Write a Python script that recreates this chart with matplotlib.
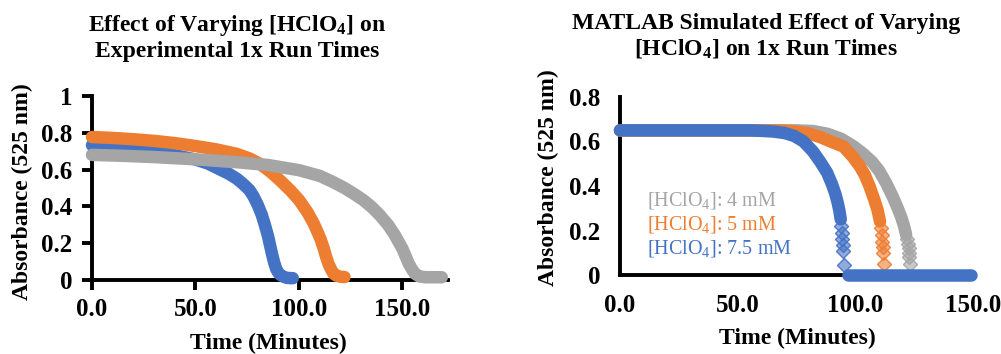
import matplotlib
matplotlib.use("Agg")
import matplotlib.pyplot as plt
from matplotlib.colors import to_rgba

plt.rcParams['font.family'] = ['Liberation Serif', 'DejaVu Serif']
plt.rcParams['mathtext.default'] = 'regular'

BLUE = '#4472C4'
ORANGE = '#ED7D31'
GRAY = '#A5A5A5'

# ---------------- Experimental data (left) ----------------
exp_blue_t = [0, 10, 20, 30, 40, 50, 56, 62, 66, 70, 73, 76, 78, 80, 82, 83.5, 85, 86, 87, 88, 89, 90, 91, 92.5, 94, 96, 97]
exp_blue_a = [0.733, 0.722, 0.71, 0.695, 0.678, 0.655, 0.633, 0.60, 0.578, 0.55, 0.522, 0.49, 0.455, 0.41, 0.355, 0.30, 0.24, 0.19, 0.14, 0.095, 0.06, 0.04, 0.028, 0.018, 0.012, 0.01, 0.01]

exp_orange_t = [0, 10, 20, 30, 40, 50, 60, 70, 76, 81, 86, 91, 96, 100, 104, 107, 109, 110.5, 112, 113, 114.2, 115.4, 116.6, 118, 120, 122]
exp_orange_a = [0.777, 0.772, 0.765, 0.756, 0.744, 0.728, 0.71, 0.685, 0.661, 0.632, 0.59, 0.54, 0.485, 0.435, 0.37, 0.31, 0.26, 0.22, 0.17, 0.13, 0.09, 0.06, 0.036, 0.024, 0.018, 0.016]

exp_gray_t = [0, 15, 30, 50, 70, 85, 100, 110, 116, 122, 127, 131, 135, 139, 143, 146, 148, 150, 151.5, 153, 154.5, 156, 158, 161, 165, 169]
exp_gray_a = [0.68, 0.675, 0.668, 0.656, 0.64, 0.625, 0.597, 0.566, 0.535, 0.5, 0.465, 0.435, 0.398, 0.353, 0.30, 0.25, 0.21, 0.17, 0.13, 0.09, 0.06, 0.035, 0.02, 0.015, 0.015, 0.015]

# ---------------- Simulated data (right) ----------------
# continuous part of each curve
sim_gray_t = [0, 15, 30, 45, 60, 75, 82, 88, 94, 99, 103, 107, 110, 113, 116, 118, 119.5, 120.7, 121.6]
sim_gray_a = [0.65, 0.65, 0.65, 0.65, 0.65, 0.65, 0.647, 0.635, 0.612, 0.58, 0.548, 0.51, 0.47, 0.415, 0.35, 0.30, 0.26, 0.22, 0.18]
# discrete points in the steep tail
sim_gray_tail_t = [122.0, 122.3, 122.6, 122.8, 123.0, 123.2]
sim_gray_tail_a = [0.16, 0.14, 0.12, 0.10, 0.08, 0.05]

sim_orange_t = [0, 15, 30, 45, 60, 65, 70, 75, 80, 85, 90, 95, 99, 102, 104, 106, 108, 109.5, 110.5]
sim_orange_a = [0.65, 0.65, 0.65, 0.65, 0.65, 0.65, 0.648, 0.644, 0.637, 0.62, 0.598, 0.577, 0.53, 0.487, 0.45, 0.40, 0.34, 0.29, 0.24]
sim_orange_tail_t = [110.9, 111.2, 111.5, 111.7, 111.9, 112.3]
sim_orange_tail_a = [0.21, 0.18, 0.15, 0.125, 0.10, 0.05]

sim_blue_t = [0, 15, 30, 45, 55, 60, 65, 70, 74, 78, 82, 85, 88, 90, 91.5, 92.5, 93.2, 93.8]
sim_blue_a = [0.65, 0.65, 0.65, 0.65, 0.65, 0.648, 0.645, 0.638, 0.625, 0.60, 0.555, 0.51, 0.46, 0.41, 0.365, 0.325, 0.29, 0.25]
sim_blue_tail_t = [94.1, 94.3, 94.5, 94.7, 94.9, 95.2]
sim_blue_tail_a = [0.22, 0.19, 0.16, 0.135, 0.11, 0.045]
# post-reaction baseline (all series reach zero; blue drawn on top)
sim_zero_t = [96.8, 149]
sim_zero_a = [0, 0]

legend_labels = ['[HClO$_4$]: 4 mM', '[HClO$_4$]: 5 mM', '[HClO$_4$]: 7.5 mM']

left_title = 'Effect of Varying [HClO$_4$] on\nExperimental 1x Run Times'
right_title = 'MATLAB Simulated Effect of Varying\n[HClO$_4$] on 1x Run Times'
xlabel = 'Time (Minutes)'
ylabel = 'Absorbance (525 nm)'

left_yticks = [0, 0.2, 0.4, 0.6, 0.8, 1]
left_yticklabels = ['0', '0.2', '0.4', '0.6', '0.8', '1']
right_yticks = [0, 0.2, 0.4, 0.6, 0.8]
right_yticklabels = ['0', '0.2', '0.4', '0.6', '0.8']
xticks = [0, 50, 100, 150]
xticklabels = ['0.0', '50.0', '100.0', '150.0']

LW = 9
TICK_FS = 18

fig = plt.figure(figsize=(10.01, 3.54), dpi=100)
axL = fig.add_axes([92/1001, 74/354, 356/1001, 184/354])
axR = fig.add_axes([620/1001, 79/354, 353/1001, 178/354])


def band(ax, t, a, c, z):
    ax.plot(t, a, color=c, lw=LW, solid_capstyle='round', solid_joinstyle='round',
            zorder=z, clip_on=False)


def tail(ax, t, a, c, z):
    ax.plot(t, a, 'D', ms=7, mfc=to_rgba(c, 0.6), mec=to_rgba(c, 0.9), mew=1,
            zorder=z, clip_on=False)


for ax in (axL, axR):
    for s in ('top', 'right'):
        ax.spines[s].set_visible(False)
    for s in ('left', 'bottom'):
        ax.spines[s].set_linewidth(2.8)
        ax.spines[s].set_color('black')
        ax.spines[s].set_zorder(1)

# Left chart
band(axL, exp_blue_t, exp_blue_a, BLUE, 3)
band(axL, exp_orange_t, exp_orange_a, ORANGE, 4)
band(axL, exp_gray_t, exp_gray_a, GRAY, 5)
axL.set_xlim(0, 172)
axL.set_ylim(0, 1)
axL.set_xticks(xticks)
axL.set_xticklabels(xticklabels)
axL.set_yticks(left_yticks)
axL.set_yticklabels(left_yticklabels)
axL.tick_params(axis='both', direction='out', length=7, width=2.8, labelsize=TICK_FS)
axL.tick_params(axis='x', pad=6)
axL.tick_params(axis='y', pad=7)

# Right chart
band(axR, sim_gray_t, sim_gray_a, GRAY, 3)
tail(axR, sim_gray_tail_t, sim_gray_tail_a, GRAY, 3)
band(axR, sim_orange_t, sim_orange_a, ORANGE, 4)
tail(axR, sim_orange_tail_t, sim_orange_tail_a, ORANGE, 4)
band(axR, sim_blue_t, sim_blue_a, BLUE, 5)
tail(axR, sim_blue_tail_t, sim_blue_tail_a, BLUE, 5)
band(axR, sim_zero_t, sim_zero_a, BLUE, 5)
axR.set_xlim(0, 150)
axR.set_ylim(0, 0.8)
axR.set_xticks(xticks)
axR.set_xticklabels(xticklabels)
axR.set_yticks(right_yticks)
axR.set_yticklabels(right_yticklabels)
axR.tick_params(axis='both', length=0, labelsize=TICK_FS)
axR.tick_params(axis='x', pad=14)
axR.tick_params(axis='y', pad=14)

for ax in (axL, axR):
    for lab in ax.get_xticklabels() + ax.get_yticklabels():
        lab.set_fontweight('bold')

for lab, c, y in zip(legend_labels, [GRAY, ORANGE, BLUE], [0.337, 0.229, 0.121]):
    axR.text(11.5, y, lab, color=c, fontsize=14.5, va='center', ha='left', zorder=6)

# Titles and axis labels
fig.text(237/1001, 0.894, left_title, ha='center', va='center', fontsize=17, fontweight='bold', linespacing=1.15)
fig.text(766/1001, 0.897, right_title, ha='center', va='center', fontsize=17, fontweight='bold', linespacing=1.15)
fig.text(268/1001, 0.031, xlabel, ha='center', va='center', fontsize=17, fontweight='bold')
fig.text(797/1001, 0.045, xlabel, ha='center', va='center', fontsize=17, fontweight='bold')
fig.text(22/1001, 0.458, ylabel, ha='center', va='center', fontsize=17, fontweight='bold', rotation=90)
fig.text(548/1001, 0.497, ylabel, ha='center', va='center', fontsize=17, fontweight='bold', rotation=90)

fig.savefig('out.png', dpi=100)
